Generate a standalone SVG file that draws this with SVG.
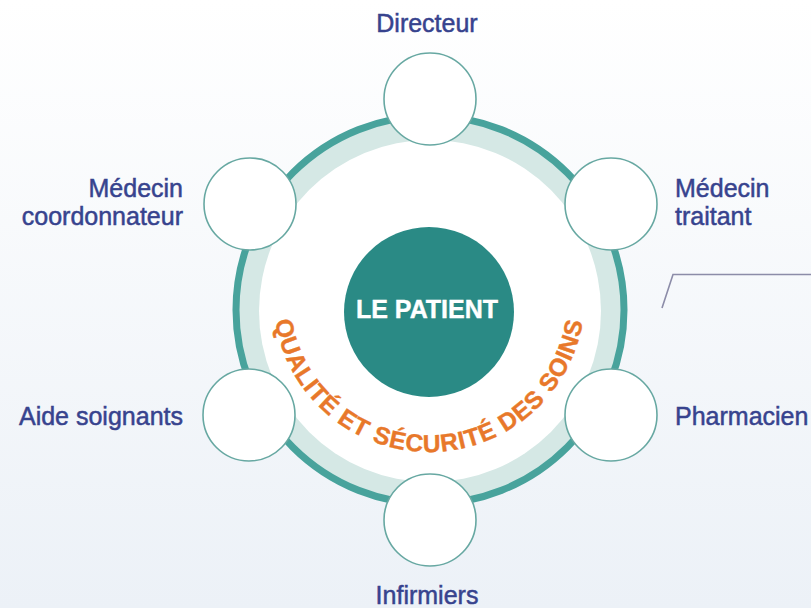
<svg xmlns="http://www.w3.org/2000/svg" width="811" height="608" viewBox="0 0 811 608">
  <defs>
    <linearGradient id="bg" x1="0" y1="0" x2="0" y2="1">
      <stop offset="0" stop-color="#ffffff"/>
      <stop offset="1" stop-color="#ecf1f7"/>
    </linearGradient>
    <path id="arc" d="M 273 296 A 156 156 0 0 0 585 296"/>
  </defs>
  <style>
    .node { fill: #ffffff; stroke: #67a8a2; stroke-width: 1.6; }
    .lbl { font-family: "Liberation Sans", Arial, sans-serif; font-size: 25px; fill: #37438e; stroke: #37438e; stroke-width: 0.5; }
    .conn { fill: none; stroke: #8c8ca8; stroke-width: 1.6; }
  </style>
  <rect x="0" y="0" width="811" height="608" fill="url(#bg)"/>

  <g id="ring">
    <circle cx="430" cy="310" r="192" fill="#d5e8e5" stroke="none"/>
    <circle cx="430" cy="310" r="194" fill="none" stroke="#48a39c" stroke-width="7"/>
    <circle cx="430" cy="311" r="171" fill="#ffffff"/>
  </g>

  <g id="connectors">
    <polyline class="conn" points="662,308 673,274.5 811,274.5"/>
  </g>

  <g id="patient">
    <circle cx="429" cy="312" r="85" fill="#2a8a85"/>
    <text x="427" y="318" text-anchor="middle" font-family="'Liberation Sans', Arial, sans-serif" font-weight="bold" font-size="25" fill="#ffffff" stroke="#ffffff" stroke-width="0.4">LE PATIENT</text>
  </g>

  <g id="qualite">
    <text font-family="'Liberation Sans', Arial, sans-serif" font-weight="bold" font-size="24.5" fill="#e8782a" stroke="#e8782a" stroke-width="0.4" letter-spacing="0.8">
      <textPath href="#arc" startOffset="50%" text-anchor="middle">QUALITÉ ET SÉCURITÉ DES SOINS</textPath>
    </text>
  </g>

  <g id="directeur">
    <circle class="node" cx="430" cy="99" r="46"/>
    <text class="lbl" x="427" y="32" text-anchor="middle">Directeur</text>
  </g>

  <g id="medecin-traitant">
    <circle class="node" cx="611" cy="204" r="46"/>
    <text class="lbl" x="675" y="197">Médecin</text>
    <text class="lbl" x="675" y="225">traitant</text>
  </g>

  <g id="pharmacien">
    <circle class="node" cx="611" cy="415" r="46"/>
    <text class="lbl" x="675" y="425">Pharmacien</text>
  </g>

  <g id="infirmiers">
    <circle class="node" cx="430" cy="520" r="46"/>
    <text class="lbl" x="427" y="604" text-anchor="middle">Infirmiers</text>
  </g>

  <g id="aide-soignants">
    <circle class="node" cx="249" cy="415" r="46"/>
    <text class="lbl" x="183" y="425" text-anchor="end">Aide soignants</text>
  </g>

  <g id="medecin-coordonnateur">
    <circle class="node" cx="250" cy="204" r="46"/>
    <text class="lbl" x="183" y="197" text-anchor="end">Médecin</text>
    <text class="lbl" x="183" y="225" text-anchor="end">coordonnateur</text>
  </g>
</svg>
